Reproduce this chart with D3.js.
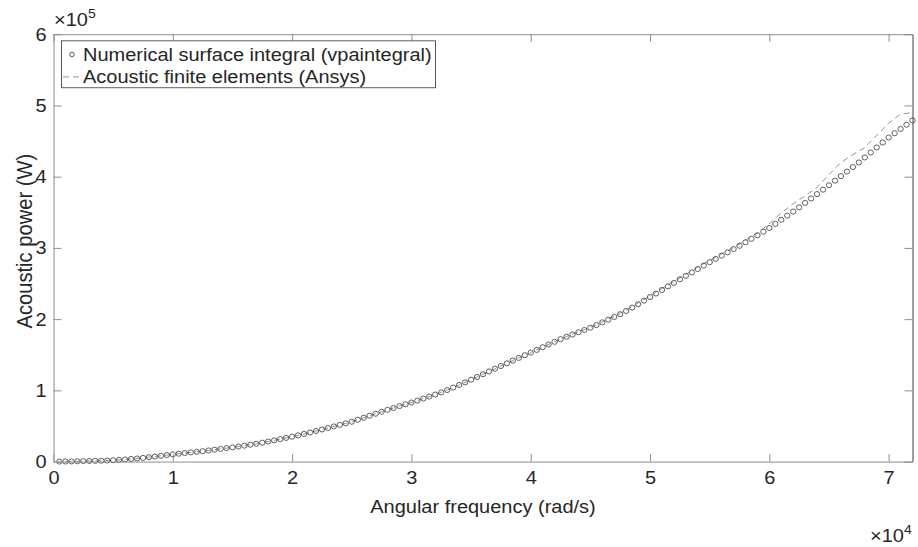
<!DOCTYPE html>
<html>
<head>
<meta charset="utf-8">
<script src="https://cdn.jsdelivr.net/npm/d3@7"></script>
<style>
  html, body { margin: 0; padding: 0; background: #fff; overflow: hidden; }
  svg { display: block; }
  svg text { font-family: "Liberation Sans", Arial, sans-serif; }
</style>
</head>
<body>
<svg id="chart" width="918" height="547" viewBox="0 0 918 583" preserveAspectRatio="none"></svg>
<script>
// ---- data ----
// Numerical surface integral (vpaintegral): frequency (rad/s) and power (W)
const freqVpa = [
  500,1000,1500,2000,2500,3000,3500,4000,4500,5000,5500,6000,6500,7000,7500,8000,8500,9000,9500,10000,
  10500,11000,11500,12000,12500,13000,13500,14000,14500,15000,15500,16000,16500,17000,17500,18000,18500,19000,19500,20000,
  20500,21000,21500,22000,22500,23000,23500,24000,24500,25000,25500,26000,26500,27000,27500,28000,28500,29000,29500,30000,
  30500,31000,31500,32000,32500,33000,33500,34000,34500,35000,35500,36000,36500,37000,37500,38000,38500,39000,39500,40000,
  40500,41000,41500,42000,42500,43000,43500,44000,44500,45000,45500,46000,46500,47000,47500,48000,48500,49000,49500,50000,
  50500,51000,51500,52000,52500,53000,53500,54000,54500,55000,55500,56000,56500,57000,57500,58000,58500,59000,59500,60000,
  60500,61000,61500,62000,62500,63000,63500,64000,64500,65000,65500,66000,66500,67000,67500,68000,68500,69000,69500,70000,
  70500,71000,71500,72000
];
const powerVpa = [
  50,150,300,500,700,900,1100,1300,1600,2000,2500,3000,3700,4400,5200,6200,7200,8200,9200,10200,
  11100,12000,12900,13800,14700,15700,16700,17800,18900,20000,21200,22400,23700,25100,26600,28200,29900,31600,33300,35000,
  36900,38900,40900,43000,45100,47200,49400,51600,53800,56000,58800,61600,64400,67200,70000,72700,75300,77900,80500,83000,
  85700,88500,91300,94200,97200,100500,104000,107600,111300,115000,118800,122700,126600,130400,134200,138000,141800,145600,149400,153000,
  156800,160600,164400,168200,172000,175300,178500,181600,184800,188000,191700,195500,199300,203100,207000,211500,216200,221000,226000,231000,
  236000,241000,246000,251000,256000,260800,265600,270400,275200,280000,284600,289200,293800,298400,303000,307900,312800,317800,322800,328000,
  333700,339500,345300,351100,357000,363200,369400,375600,381800,388000,394400,400800,407200,413600,420000,427000,434000,441000,448000,455000,
  461000,467000,473000,479000
];
// Acoustic finite elements (Ansys)
const freqAnsys = [
  1000,2000,3000,4000,5000,6000,7000,8000,9000,10000,11000,12000,13000,14000,15000,16000,17000,18000,19000,20000,
  21000,22000,23000,24000,25000,26000,27000,28000,29000,30000,31000,32000,33000,34000,35000,36000,37000,38000,39000,40000,
  41000,42000,43000,44000,45000,46000,47000,48000,49000,50000,51000,52000,53000,54000,55000,56000,57000,58000,59000,60000,
  61000,62000,63000,64000,65000,66000,67000,68000,69000,70000,71000,72000
];
const powerAnsys = [
  150,500,900,1300,2000,3000,4400,6200,8200,10200,12000,13800,15700,17800,20000,22400,25100,28200,31600,35000,
  38900,43000,47200,51600,56000,61600,67200,72700,77900,83000,88500,94200,100500,107600,115000,122700,130400,138000,145600,153000,
  160600,168200,175500,182000,188500,196000,204000,212500,222500,232500,243000,253000,263000,273000,282500,291500,300500,311000,321000,334000,
  349000,362000,373000,385000,403000,420000,431000,441000,458000,475000,488000,490000
];
const xTickValues = [0, 10000, 20000, 30000, 40000, 50000, 60000, 70000];
const xTickLabels = ["0", "1", "2", "3", "4", "5", "6", "7"];
const yTickValues = [0, 100000, 200000, 300000, 400000, 500000, 600000];
const yTickLabels = ["0", "1", "2", "3", "4", "5", "6"];
const legendLabels = ["Numerical surface integral (vpaintegral)", "Acoustic finite elements (Ansys)"];

(function () {
// ---- layout (viewBox units: 918 x 583, shown at 918 x 547) ----
const svg = d3.select("#chart");
const pl = 53.5, pr = 912.5, pt = 36.5, pb = 492;
const x = d3.scaleLinear().domain([0, 72000]).range([pl, pr]);
const y = d3.scaleLinear().domain([0, 600000]).range([pb, pt]);
const axisGray = "#8a8a8a";
const textCol = "#262626";
const fs = 20;

// data: dashed line (Ansys)
const line = d3.line().x((d, i) => x(freqAnsys[i])).y(d => y(d));
svg.append("path")
  .datum(powerAnsys)
  .attr("d", line)
  .attr("fill", "none")
  .attr("stroke", "#8f8f8f")
  .attr("stroke-width", 1)
  .attr("stroke-dasharray", "6,4");

// data: circles
svg.append("g").selectAll("circle")
  .data(powerVpa)
  .join("circle")
  .attr("cx", (d, i) => x(freqVpa[i]))
  .attr("cy", d => y(d))
  .attr("r", 2.7)
  .attr("fill", "none")
  .attr("stroke", "#4a4a4a")
  .attr("stroke-width", 0.9);

// axes
const tickLen = 8;
const xBottom = d3.axisBottom(x).tickValues(xTickValues).tickSizeInner(-tickLen).tickSizeOuter(0)
  .tickPadding(10).tickFormat((d, i) => xTickLabels[i]);
const gx = svg.append("g").attr("transform", `translate(0,${pb})`).call(xBottom);
const xTop = d3.axisTop(x).tickValues(xTickValues).tickSizeInner(-tickLen).tickSizeOuter(0).tickFormat("");
const gxt = svg.append("g").attr("transform", `translate(0,${pt})`).call(xTop);
const yLeft = d3.axisLeft(y).tickValues(yTickValues).tickSizeInner(-tickLen).tickSizeOuter(0)
  .tickPadding(7).tickFormat((d, i) => yTickLabels[i]);
const gy = svg.append("g").attr("transform", `translate(${pl},0)`).call(yLeft);
const yRight = d3.axisRight(y).tickValues(yTickValues).tickSizeInner(-tickLen).tickSizeOuter(0).tickFormat("");
const gyr = svg.append("g").attr("transform", `translate(${pr},0)`).call(yRight);

[gx, gxt, gy].forEach(g => {
  g.select(".domain").attr("stroke", axisGray);
  g.selectAll(".tick line").attr("stroke", axisGray);
});
gyr.select(".domain").attr("stroke", "#3a3a3a");
gyr.selectAll(".tick line").attr("stroke", axisGray);
[gx, gy].forEach(g => g.selectAll(".tick text")
  .attr("font-size", fs).attr("fill", textCol)
  .attr("font-family", '"Liberation Sans", Arial, sans-serif'));

// axis labels
svg.append("text")
  .attr("x", (pl + pr) / 2).attr("y", 547)
  .attr("text-anchor", "middle").attr("font-size", fs).attr("fill", textCol)
  .text("Angular frequency (rad/s)");
svg.append("text")
  .attr("transform", `translate(32,257) rotate(-90)`)
  .attr("text-anchor", "middle").attr("font-size", 21.5).attr("fill", textCol)
  .text("Acoustic power (W)");

// exponent labels
const e5 = svg.append("text").attr("x", 54).attr("y", 28).attr("font-size", fs).attr("fill", textCol);
e5.append("tspan").text("\u00d710");
e5.append("tspan").attr("dy", -9).attr("font-size", 14).text("5");
const e4 = svg.append("text").attr("x", 870).attr("y", 578).attr("font-size", fs).attr("fill", textCol);
e4.append("tspan").text("\u00d710");
e4.append("tspan").attr("dy", -9).attr("font-size", 14).text("4");

// legend
const lg = svg.append("g");
lg.append("rect").attr("x", 61.5).attr("y", 43.5).attr("width", 374).attr("height", 50)
  .attr("fill", "#fff").attr("stroke", "#555").attr("stroke-width", 1);
lg.append("circle").attr("cx", 72).attr("cy", 58).attr("r", 2.4)
  .attr("fill", "none").attr("stroke", "#4a4a4a").attr("stroke-width", 0.9);
lg.append("line").attr("x1", 63).attr("x2", 79).attr("y1", 82).attr("y2", 82)
  .attr("stroke", "#8f8f8f").attr("stroke-dasharray", "6,4");
lg.selectAll("text.lt").data(legendLabels).join("text")
  .attr("class", "lt")
  .attr("x", 83).attr("y", (d, i) => 58 + i * 24)
  .attr("dy", "0.35em")
  .attr("font-size", fs).attr("fill", textCol)
  .text(d => d);
})();
</script>
</body>
</html>
